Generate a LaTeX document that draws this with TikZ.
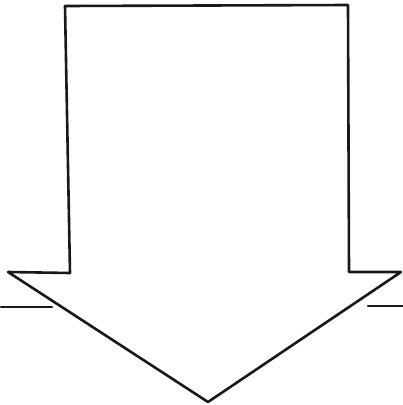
\documentclass[tikz,border=0pt]{standalone}
\begin{document}
\begin{tikzpicture}[x=1pt,y=-1pt,
  outline/.style={draw=black!90,line width=2.6pt,line join=round,line cap=round}]
\useasboundingbox (0,0) rectangle (403,405);
\draw[outline] (70,273) -- (65,6) -- (348,5) -- (349,272) -- (401,272) -- (208,402) -- (8,272) -- cycle;
\draw[outline] (1,307) -- (52,307);
\draw[outline] (368,306) -- (403,306);
\end{tikzpicture}
\end{document}
